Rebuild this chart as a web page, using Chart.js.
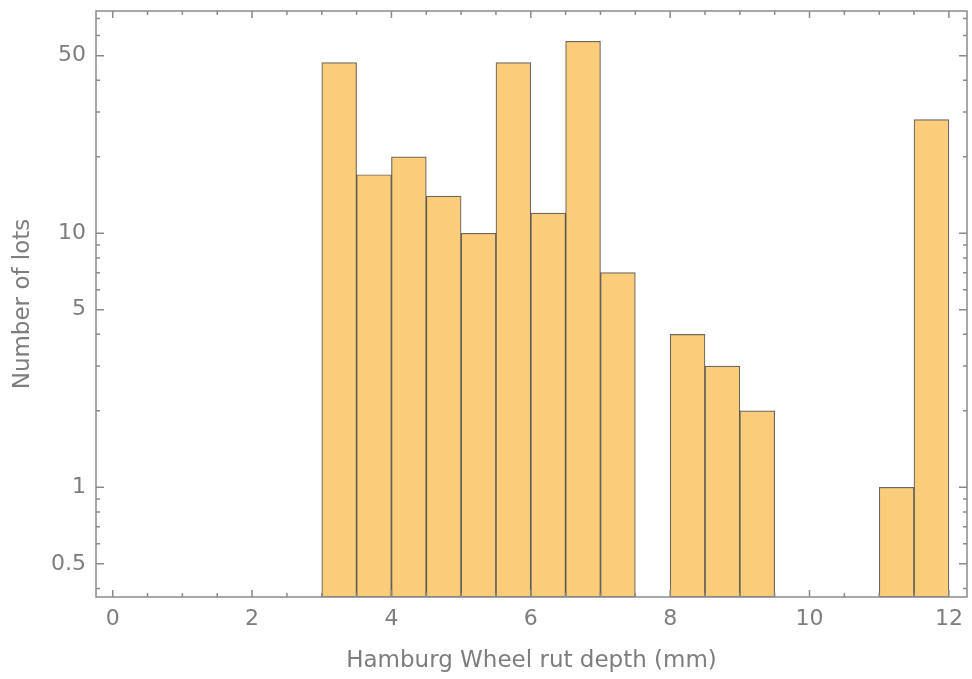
<!DOCTYPE html>
<html>
<head>
<meta charset="utf-8">
<script src="https://cdn.jsdelivr.net/npm/chart.js@4"></script>
<style>
  html, body { margin: 0; padding: 0; background: #fff; }
</style>
</head>
<body>
<canvas id="histChart" width="972" height="679"></canvas>
<script>
// histogram bins (left edge, mm) and counts per bin
const binStarts = [3, 3.5, 4, 4.5, 5, 5.5, 6, 6.5, 7, 7.5, 8, 8.5, 9, 9.5, 10, 10.5, 11, 11.5];
const counts    = [47, 17, 20, 14, 10, 47, 12, 57, 7, 0, 4, 3, 2, 0, 0, 0, 1, 28];
const binWidth  = 0.5;

// axis ticks
const xMajorTicks = [0, 2, 4, 6, 8, 10, 12];
const xMinorTicks = [0.5, 1, 1.5, 2.5, 3, 3.5, 4.5, 5, 5.5, 6.5, 7, 7.5, 8.5, 9, 9.5, 10.5, 11, 11.5];
const yMajorTicks = [0.5, 1, 5, 10, 50];
const yMinorTicks = [0.4, 0.6, 0.7, 0.8, 0.9, 2, 3, 4, 6, 7, 8, 9, 20, 30, 40, 60, 70];

const labelFont = { family: 'DejaVu Sans', size: 22 };
const titleFont = { family: 'DejaVu Sans', size: 23 };
const textColor = '#7d7d7d';
const frameColor = '#8a8a8a';

// frame around the plot with inward ticks on all four sides
const frameTicks = {
  id: 'frameTicks',
  afterDatasetsDraw(chart) {
    const { ctx, chartArea: a, scales: { x, y } } = chart;
    ctx.save();
    ctx.strokeStyle = frameColor;
    ctx.lineWidth = 1.5;
    ctx.strokeRect(a.left, a.top, a.right - a.left, a.bottom - a.top);
    ctx.beginPath();
    const xt = (v, len) => {
      const px = x.getPixelForValue(v);
      ctx.moveTo(px, a.bottom); ctx.lineTo(px, a.bottom - len);
      ctx.moveTo(px, a.top);    ctx.lineTo(px, a.top + len);
    };
    const yt = (v, len) => {
      const py = y.getPixelForValue(v);
      ctx.moveTo(a.left, py);  ctx.lineTo(a.left + len, py);
      ctx.moveTo(a.right, py); ctx.lineTo(a.right - len, py);
    };
    xMajorTicks.forEach(v => xt(v, 7));
    xMinorTicks.forEach(v => xt(v, 4));
    yMajorTicks.forEach(v => yt(v, 8));
    yMinorTicks.forEach(v => yt(v, 4));
    ctx.stroke();
    ctx.restore();
  }
};

const points = binStarts.map((s, i) => ({ x: s + binWidth / 2, y: counts[i] > 0 ? counts[i] : null }));

new Chart(document.getElementById('histChart'), {
  type: 'bar',
  data: {
    datasets: [{
      data: points,
      backgroundColor: 'rgb(251, 205, 123)',
      borderColor: 'rgba(45, 38, 28, 0.7)',
      borderWidth: 1.2,
      borderSkipped: false,
      barPercentage: 1,
      categoryPercentage: 1
    }]
  },
  options: {
    responsive: false,
    animation: false,
    layout: { padding: { top: 11, right: 5, left: 0, bottom: 0 } },
    plugins: { legend: { display: false }, tooltip: { enabled: false } },
    scales: {
      x: {
        type: 'linear',
        min: -0.24,
        max: 12.26,
        offset: false,
        grid: { display: false, drawTicks: false, offset: false },
        border: { display: false },
        afterBuildTicks: s => { s.ticks = xMajorTicks.map(v => ({ value: v })); },
        afterFit: s => { s.height = 82; s.paddingLeft = 0; s.paddingRight = 0; },
        ticks: { autoSkip: false, maxRotation: 0, padding: 9, color: textColor, font: labelFont,
                 callback: v => String(v) },
        title: { display: true, text: 'Hamburg Wheel rut depth (mm)', color: textColor, font: titleFont,
                 padding: { top: 0, bottom: 4 } }
      },
      y: {
        type: 'logarithmic',
        min: 0.37,
        max: 75,
        grid: { display: false, drawTicks: false },
        border: { display: false },
        afterBuildTicks: s => { s.ticks = yMajorTicks.map(v => ({ value: v })); },
        afterFit: s => { s.width = 96; s.paddingTop = 0; s.paddingBottom = 0; },
        ticks: { autoSkip: false, padding: 10, color: textColor, font: labelFont,
                 callback: v => String(v) },
        title: { display: true, text: 'Number of lots', color: textColor, font: titleFont,
                 padding: { top: 9, bottom: 0 } }
      }
    }
  },
  plugins: [frameTicks]
});
</script>
</body>
</html>
